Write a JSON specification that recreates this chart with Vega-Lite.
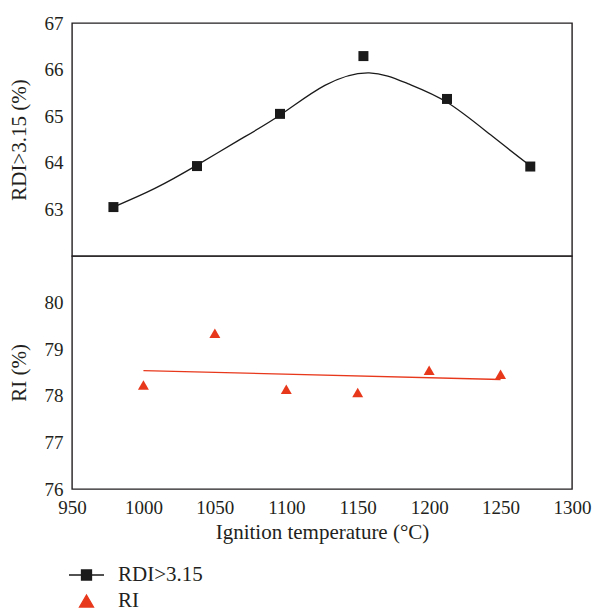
{
  "$schema": "https://vega.github.io/schema/vega-lite/v6.json",
  "padding": {"left": 7, "top": 13, "right": 5, "bottom": 5},
  "background": "white",
  "spacing": 0,
  "bounds": "flush",
  "config": {
    "font": "Liberation Serif",
    "view": {"stroke": "#231f20", "strokeWidth": 1.4},
    "axis": {
      "grid": false, "ticks": false, "domain": false,
      "labelFont": "Liberation Serif", "labelFontSize": 19, "labelColor": "#231f20", "labelPadding": 9,
      "titleFont": "Liberation Serif", "titleFontSize": 21, "titleFontWeight": "normal", "titleColor": "#231f20", "titlePadding": 15
    },
    "axisX": {"titlePadding": 4},
    "legend": {"labelFont": "Liberation Serif", "labelFontSize": 21, "labelColor": "#231f20"}
  },
  "resolve": {"scale": {"color": "shared", "shape": "shared"}},
  "vconcat": [
    {
      "width": 500,
      "height": 233,
      "data": {"values": [
        {"kind": "obs", "t": 979, "v": 63.05},
        {"kind": "obs", "t": 1037.5, "v": 63.93},
        {"kind": "obs", "t": 1095.6, "v": 65.05},
        {"kind": "obs", "t": 1154, "v": 66.29},
        {"kind": "obs", "t": 1212.5, "v": 65.37},
        {"kind": "obs", "t": 1270.8, "v": 63.92},
        {"kind": "fit", "t": 979, "v": 63.05},
        {"kind": "fit", "t": 1008, "v": 63.45},
        {"kind": "fit", "t": 1037.5, "v": 63.95},
        {"kind": "fit", "t": 1066, "v": 64.47},
        {"kind": "fit", "t": 1096, "v": 65.03},
        {"kind": "fit", "t": 1127, "v": 65.66},
        {"kind": "fit", "t": 1158, "v": 65.93},
        {"kind": "fit", "t": 1185, "v": 65.7},
        {"kind": "fit", "t": 1212.5, "v": 65.3},
        {"kind": "fit", "t": 1243, "v": 64.6},
        {"kind": "fit", "t": 1271, "v": 63.93}
      ]},
      "encoding": {
        "x": {"field": "t", "type": "quantitative", "scale": {"domain": [950, 1300], "nice": false}, "axis": null},
        "y": {"field": "v", "type": "quantitative", "scale": {"domain": [62, 67], "nice": false, "zero": false},
              "axis": {"values": [63, 64, 65, 66, 67], "title": "RDI>3.15 (%)"}}
      },
      "layer": [
        {"transform": [{"filter": "datum.kind == 'fit'"}],
         "mark": {"type": "line", "interpolate": "natural", "color": "#1a1a1a", "strokeWidth": 1.3}},
        {"transform": [{"filter": "datum.kind == 'obs'"}],
         "mark": {"type": "point", "shape": "square", "filled": true, "opacity": 1, "size": 100, "color": "#1a1a1a"}}
      ]
    },
    {
      "width": 500,
      "height": 233,
      "data": {"values": [
        {"kind": "obs", "t": 1000, "v": 78.23},
        {"kind": "obs", "t": 1050, "v": 79.34},
        {"kind": "obs", "t": 1100, "v": 78.14},
        {"kind": "obs", "t": 1150, "v": 78.07},
        {"kind": "obs", "t": 1200, "v": 78.55},
        {"kind": "obs", "t": 1250, "v": 78.46},
        {"kind": "fit", "t": 1000, "v": 78.54},
        {"kind": "fit", "t": 1250, "v": 78.35},
        {"kind": "key", "t": 900, "v": 78, "series": "RDI>3.15"},
        {"kind": "key", "t": 900, "v": 78, "series": "RI"}
      ]},
      "encoding": {
        "x": {"field": "t", "type": "quantitative", "scale": {"domain": [950, 1300], "nice": false},
              "axis": {"values": [950, 1000, 1050, 1100, 1150, 1200, 1250, 1300], "format": "d", "title": "Ignition temperature (°C)", "labelFlush": false}},
        "y": {"field": "v", "type": "quantitative", "scale": {"domain": [76, 81], "nice": false, "zero": false},
              "axis": {"values": [76, 77, 78, 79, 80], "title": "RI (%)"}}
      },
      "layer": [
        {"transform": [{"filter": "datum.kind == 'fit'"}],
         "mark": {"type": "line", "color": "#e8381c", "strokeWidth": 1.3}},
        {"transform": [{"filter": "datum.kind == 'obs'"}],
         "mark": {"type": "point", "shape": "triangle-up", "filled": true, "opacity": 1, "size": 120, "color": "#e8381c"}},
        {"transform": [{"filter": "datum.kind == 'key'"}],
         "mark": {"type": "point", "filled": true, "opacity": 0, "clip": true},
         "encoding": {
           "shape": {"field": "series", "type": "nominal",
             "scale": {"domain": ["RDI>3.15", "RI"], "range": ["M-1.75,0H-0.5M0.5,0H1.75M-0.5,-0.5H0.5V0.5H-0.5Z", "M0,-0.6L0.7,0.6L-0.7,0.6Z"]},
             "legend": {"title": null, "orient": "none", "legendX": 3.5, "legendY": 541, "symbolSize": 400, "rowPadding": 5, "labelOffset": 20.5, "padding": 0,
               "encode": {"symbols": {"update": {"stroke": {"scale": "color", "field": "value"}, "strokeWidth": {"value": 1.3}}}}}},
           "color": {"field": "series", "type": "nominal",
             "scale": {"domain": ["RDI>3.15", "RI"], "range": ["#1a1a1a", "#e8381c"]},
             "legend": {"title": null, "orient": "none", "legendX": 3.5, "legendY": 541, "symbolSize": 400, "rowPadding": 5, "labelOffset": 20.5, "padding": 0,
               "encode": {"symbols": {"update": {"stroke": {"scale": "color", "field": "value"}, "strokeWidth": {"value": 1.3}}}}}}
         }}
      ]
    }
  ]
}
